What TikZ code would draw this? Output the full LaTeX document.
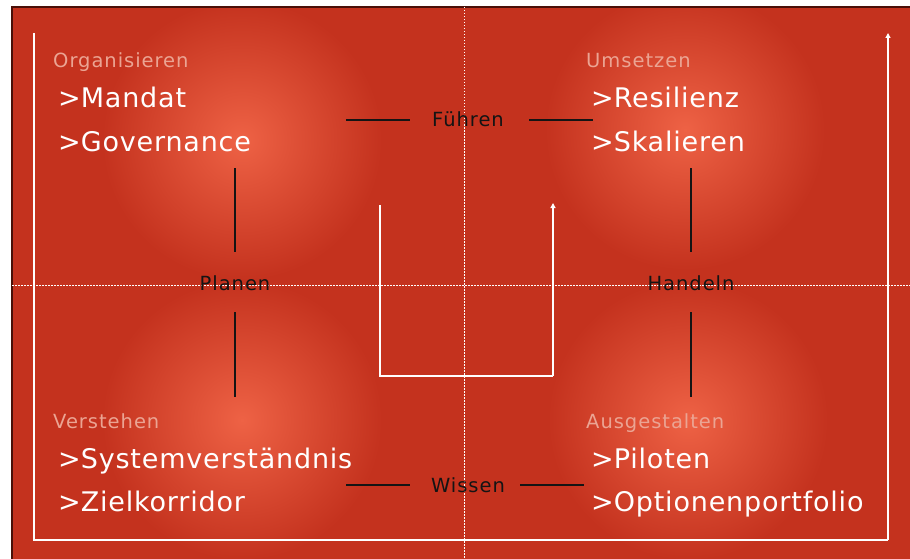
\documentclass[tikz,border=0pt]{standalone}
\usepackage{fontspec}
\setmainfont{DejaVu Sans}
\usepackage{tikz}
\usetikzlibrary{arrows.meta,positioning,calc}
\definecolor{brick}{HTML}{C4321E}
\definecolor{ember}{HTML}{EE6245}
\definecolor{blush}{HTML}{EBA493}
\definecolor{ink}{HTML}{141414}
\definecolor{edge}{HTML}{4A1008}
% chevron in front of each item
\newcommand\itemmark{>\kern0pt}
\tikzset{
  catlabel/.style={anchor=base west, inner sep=0pt, text=blush,
    font=\fontsize{19.5}{22}\selectfont\addfontfeature{LetterSpace=5}},
  itemlabel/.style={anchor=base west, inner sep=0pt, text=white,
    font=\fontsize{27}{30}\selectfont\addfontfeature{LetterSpace=3}},
  axislabel/.style={anchor=base, inner sep=0pt, text=ink,
    font=\fontsize{19.5}{22}\selectfont\addfontfeature{LetterSpace=5}},
  glow/.style={inner color=ember, outer color=brick},
  divider/.style={draw=ink, line width=1.2pt},
  frameline/.style={draw=white, line width=1.4pt},
  flowarrow/.style={-{Triangle[length=5pt,width=5pt]}, draw=white, line width=1.4pt},
  crosshair/.style={draw=white, line width=0.6pt, dash pattern=on 1.5pt off 1.5pt},
}

\begin{document}
\begin{tikzpicture}[x=1pt, y=-1pt]

\useasboundingbox (0,0) rectangle (910,559);
\fill[white] (0,0) rectangle (910,559);
\fill[brick] (12,7) rectangle (910,559);

% ── soft glow behind each quadrant ──
\begin{scope}
  \clip (12,7) rectangle (910,559);
  \shade[glow] (242,140) circle (140);
  \shade[glow] (685,130) circle (140);
  \shade[glow] (242,420) circle (140);
  \shade[glow] (688,420) circle (140);
\end{scope}
\draw[edge, line width=1.2pt] (12,559) -- (12,7) -- (910,7);

% ── crosshair ──
\draw[crosshair] (464,7) -- (464,559);
\draw[crosshair] (12,285) -- (910,285);

% ── outer frame with arrow ──
\coordinate (frameTop) at (34,33);
\coordinate (frameBL) at (34,540);
\coordinate (frameBR) at (888,540);
\coordinate (frameEnd) at (888,33);
\draw[frameline] (frameTop) -- (frameBL) -- (frameBR);
\draw[flowarrow] (frameBR) -- (frameEnd);

% ── inner loop ──
\coordinate (loopStart) at (380,205);
\coordinate (loopBL) at (380,376);
\coordinate (loopBR) at (553,376);
\coordinate (loopEnd) at (553,203);
\draw[frameline] (loopStart) -- (loopBL) -- (loopBR);
\draw[flowarrow] (loopBR) -- (loopEnd);

% ── quadrants ──
\node[catlabel] (org) at (53,68) {Organisieren};
\node[itemlabel] (mandat) at (58,108) {\itemmark Mandat};
\node[itemlabel] (gov) at (58,152) {\itemmark Governance};

\node[catlabel] (ums) at (586,68) {Umsetzen};
\node[itemlabel] (resil) at (591,108) {\itemmark Resilienz};
\node[itemlabel] (skal) at (591,152) {\itemmark Skalieren};

\node[catlabel] (vers) at (53,428) {Verstehen};
\node[itemlabel] (sysv) at (58,468) {\itemmark Systemverständnis};
\node[itemlabel] (ziel) at (58,511) {\itemmark Zielkorridor};

\node[catlabel] (ausg) at (586,428) {Ausgestalten};
\node[itemlabel] (pilot) at (591,468) {\itemmark Piloten};
\node[itemlabel] (optp) at (591,511) {\itemmark Optionenportfolio};

% ── axis labels ──
\node[axislabel] (fuehren) at (468,127) {Führen};
\node[axislabel] (wissen) at (468,492) {Wissen};
\node[axislabel] (planen) at (235,290) {Planen};
\node[axislabel] (handeln) at (691,290) {Handeln};

\draw[divider] (346,120) -- (410,120);
\draw[divider] (529,120) -- (593,120);
\draw[divider] (346,485) -- (410,485);
\draw[divider] (520,485) -- (584,485);
\draw[divider] (235,168) -- (235,252);
\draw[divider] (235,312) -- (235,397);
\draw[divider] (691,168) -- (691,252);
\draw[divider] (691,312) -- (691,397);

\end{tikzpicture}
\end{document}
